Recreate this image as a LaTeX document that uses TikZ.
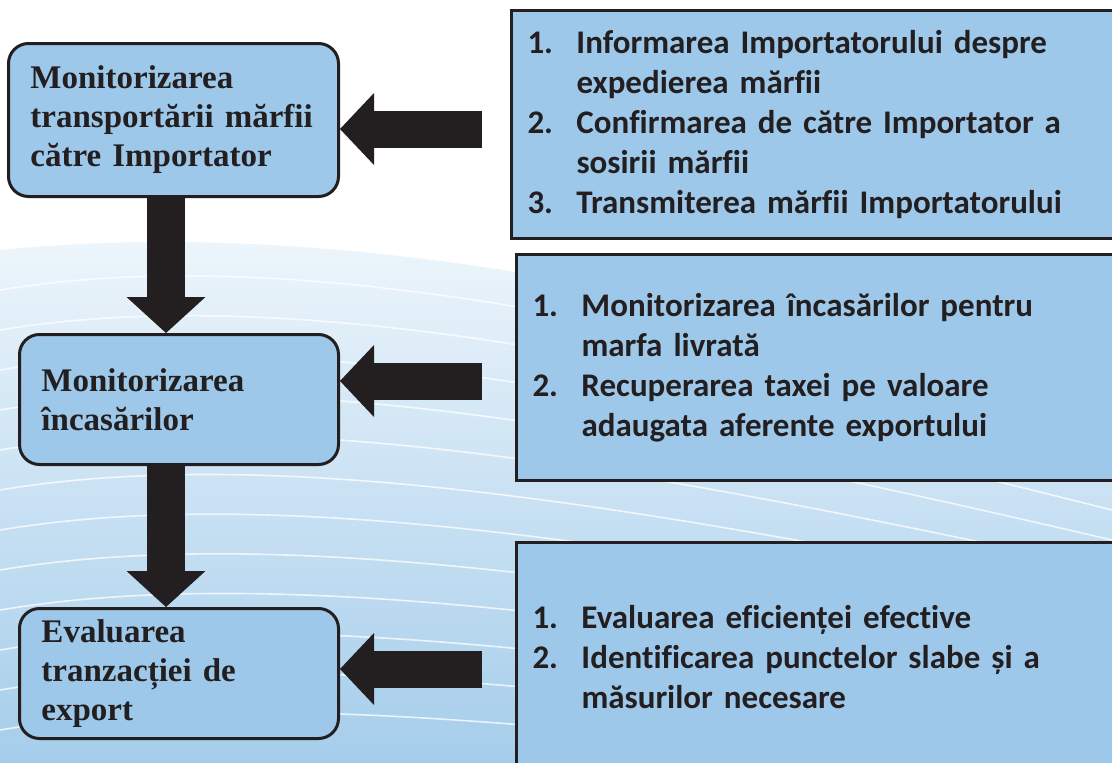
\documentclass[tikz,border=0pt]{standalone}
\usepackage{fontspec}
\setmainfont{Liberation Serif}
\newfontfamily\listfont[Ligatures=CommonOff]{Carlito}
\usetikzlibrary{arrows.meta}
\definecolor{boxblue}{RGB}{158,200,234}
\definecolor{ink}{RGB}{35,31,32}
\definecolor{skyA}{RGB}{240,247,252}
\definecolor{skyB}{RGB}{165,205,235}
\newcommand{\nr}[1]{\makebox[49pt][l]{#1}}
\newcommand{\hang}{\hspace*{49pt}}
\tikzset{
  stage/.style={draw=ink,line width=3pt,fill=boxblue,rounded corners=20pt,anchor=north west,align=left,inner xsep=22pt,inner ysep=0pt,text=ink,font=\fontsize{33}{39}\selectfont\bfseries},
  task/.style={draw=ink,line width=3pt,fill=boxblue,anchor=north west,align=left,inner xsep=16pt,inner ysep=0pt,text width=590pt,text=ink,font=\listfont\fontsize{33}{40}\selectfont\bfseries},
  feed/.style={ink,line width=37pt,-{Triangle[width=72pt,length=34pt,line width=0pt]}},
  flow/.style={ink,line width=38pt,-{Triangle[width=79pt,length=36pt,line width=0pt]}}
}
\begin{document}
\begin{tikzpicture}[x=1pt,y=-1pt]
  \clip(0,0)rectangle(1112,763);
  \fill[white](0,0)rectangle(1112,763);
  \shade[top color=skyA,bottom color=skyB](0,250)..controls(350,215)and(750,300)..(1112,430)--(1112,763)--(0,763)--cycle;
  \foreach \k in {0,...,11} \draw[white,line width=1.6pt,opacity=.75](0,290+40*\k)..controls(300,240+40*\k)and(700,330+38*\k)..(1112,450+30*\k);
  \node[stage,text width=286pt,minimum height=153pt](mon)at(7,42){Monitorizarea\\transportării mărfii\\către Importator};
  \node[stage,text width=275pt,minimum height=130pt](inc)at(18,333){Monitorizarea\\încasărilor};
  \node[stage,text width=275pt,minimum height=130pt](eval)at(18,607){Evaluarea\\tranzacției de\\export};
  \node[task,minimum height=228pt](inf)at(510,9){\nr{1.}Informarea Importatorului despre\\\hang expedierea mărfii\\\nr{2.}Confirmarea de către Importator a\\\hang sosirii mărfii\\\nr{3.}Transmiterea mărfii Importatorului};
  \node[task,minimum height=226pt](rec)at(515,253){\nr{1.}Monitorizarea încasărilor pentru\\\hang marfa livrată\\\nr{2.}Recuperarea taxei pe valoare\\\hang adaugata aferente exportului};
  \node[task,minimum height=230pt](eff)at(515,541){\nr{1.}Evaluarea eficienței efective\\\nr{2.}Identificarea punctelor slabe și a\\\hang măsurilor necesare};
  \coordinate(fa)at(482,129);
  \coordinate(fb)at(482,381);
  \coordinate(fc)at(482,669);
  \coordinate(fd)at(166,0);
  \draw[feed](fa)--(fa-|mon.east);
  \draw[feed](fb)--(fb-|inc.east);
  \draw[feed](fc)--(fc-|eval.east);
  \draw[flow](mon.south-|fd)--(inc.north-|fd);
  \draw[flow](inc.south-|fd)--(eval.north-|fd);
\end{tikzpicture}
\end{document}
